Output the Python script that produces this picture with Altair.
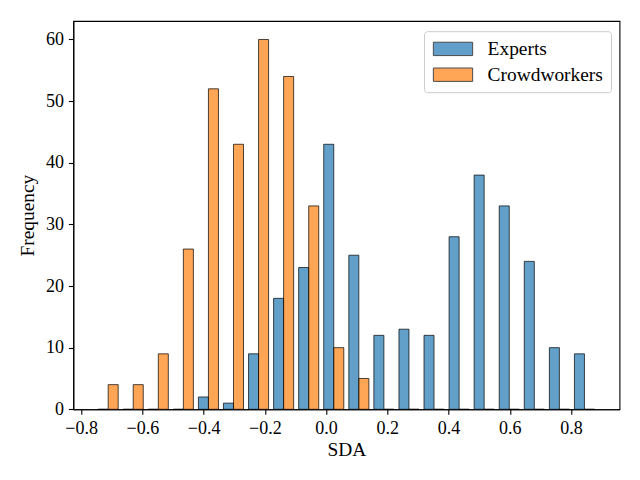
import altair as alt
import pandas as pd

# ---- data ----
series = ["Experts", "Crowdworkers"]
colors = ["#1f77b4", "#ff7f0e"]
bin_left = [-0.7525, -0.6707, -0.5888, -0.5070, -0.4251, -0.3433, -0.2614,
            -0.1796, -0.0977, -0.0159, 0.0660, 0.1478, 0.2297, 0.3115,
            0.3934, 0.4752, 0.5571, 0.6389, 0.7208, 0.8026]
bin_width = 0.08185
experts = [0, 0, 0, 0, 2, 1, 9, 18, 23, 43, 25, 12, 13, 12, 28, 38, 33, 24, 10, 9]
crowdworkers = [4, 4, 9, 26, 52, 43, 60, 54, 33, 10, 5, 0, 0, 0, 0, 0, 0, 0, 0, 0]
x_ticks = [-0.8, -0.6, -0.4, -0.2, 0.0, 0.2, 0.4, 0.6, 0.8]
y_ticks = [0, 10, 20, 30, 40, 50, 60]

rows = []
for i, left in enumerate(bin_left):
    rows.append({"left": left, "series": series[0], "idx": 0, "count": experts[i]})
    rows.append({"left": left, "series": series[1], "idx": 1, "count": crowdworkers[i]})
df = pd.DataFrame(rows)

FONT = "Liberation Serif"

chart = (
    alt.Chart(df)
    .transform_calculate(
        x0=f"datum.left + {bin_width} * (0.1 + 0.4 * datum.idx)",
        x1=f"datum.left + {bin_width} * (0.5 + 0.4 * datum.idx)",
    )
    .mark_bar(fillOpacity=0.7, stroke="black", strokeOpacity=0.7, strokeWidth=1)
    .encode(
        x=alt.X(
            "x0:Q",
            scale=alt.Scale(domain=[-0.8254, 0.958], nice=False, zero=False),
            axis=alt.Axis(values=x_ticks, format=".1f", title="SDA",
                          titleY=45.7, titleBaseline="alphabetic",
                          labelFlush=False, labelOverlap=False),
        ),
        x2="x1:Q",
        y=alt.Y(
            "count:Q",
            scale=alt.Scale(domain=[0, 63], nice=False),
            axis=alt.Axis(values=y_ticks, title="Frequency",
                          titleX=-40.3, titleBaseline="alphabetic",
                          labelOverlap=False),
        ),
        y2=alt.datum(0),
        color=alt.Color(
            "series:N",
            scale=alt.Scale(domain=series, range=colors),
            legend=alt.Legend(
                title=None, orient="none", legendX=350.7, legendY=10.2,
                symbolType="M-3,-1.02H3V1.02H-3Z", symbolSize=171.6,
                symbolStrokeColor="black", symbolStrokeWidth=1, symbolOpacity=0.7,
                symbolOffset=11.3,
                labelFont=FONT, labelFontSize=19.4, labelColor="black",
                labelOffset=24.9, rowPadding=4.8, padding=8,
                strokeColor="#cccccc", cornerRadius=3, fillColor="white",
            ),
        ),
    )
    .properties(
        width=546.2, height=388.3,
        autosize=alt.AutoSizeParams(type="none"),
        padding={"left": 65.3, "top": 13, "right": 12.5, "bottom": 62.7},
        background="white",
    )
    .configure_view(stroke="black", strokeWidth=1.1)
    .configure_axis(
        labelFont=FONT, titleFont=FONT, labelFontSize=18, titleFontSize=19.4,
        titleFontWeight="normal", labelColor="black", titleColor="black",
        tickColor="black", domainColor="black", tickSize=4.9, tickWidth=1.1,
        domainWidth=1.1, grid=False, labelPadding=4.9,
    )
)

chart.save("out.html", embed_options={"renderer": "svg", "actions": False})
